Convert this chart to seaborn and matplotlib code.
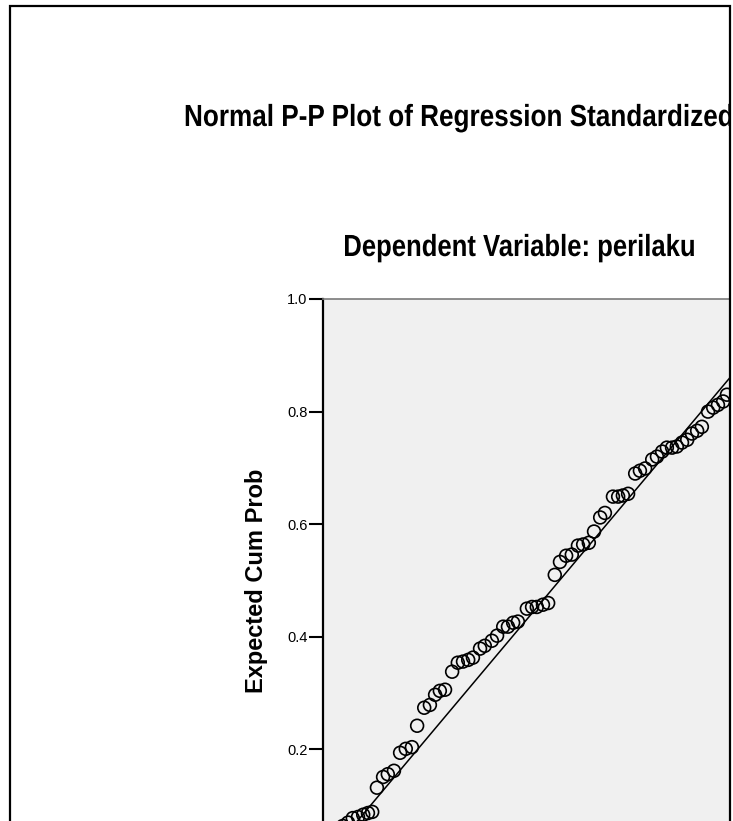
import numpy as np
import pandas as pd
import matplotlib
matplotlib.use("Agg")
import matplotlib.pyplot as plt
from matplotlib.patches import Rectangle
from matplotlib import patheffects
from matplotlib.transforms import Affine2D
import seaborn as sns

# ---- data ----
observed_cum_prob = [0.032, 0.042, 0.053,
                     0.063, 0.074, 0.085, 0.095, 0.104, 0.114, 0.127, 0.137, 0.150,
                     0.163, 0.175, 0.188, 0.199, 0.214, 0.226, 0.237, 0.247, 0.258,
                     0.273, 0.285, 0.296, 0.307, 0.317, 0.332, 0.342, 0.357, 0.368,
                     0.381, 0.391, 0.402, 0.412, 0.431, 0.442, 0.452, 0.465, 0.476,
                     0.490, 0.501, 0.514, 0.526, 0.539, 0.550, 0.562, 0.573, 0.586,
                     0.596, 0.613, 0.624, 0.634, 0.645, 0.660, 0.670, 0.681, 0.696,
                     0.706, 0.717, 0.727, 0.738, 0.748, 0.759, 0.770, 0.780, 0.791,
                     0.801, 0.814, 0.825, 0.835, 0.846, 0.854]
expected_cum_prob = [0.058, 0.064, 0.070,
                     0.078, 0.080, 0.084, 0.087, 0.089, 0.132, 0.151, 0.156, 0.162,
                     0.194, 0.201, 0.204, 0.242, 0.274, 0.279, 0.297, 0.304, 0.306,
                     0.338, 0.354, 0.356, 0.359, 0.363, 0.379, 0.384, 0.393, 0.402,
                     0.418, 0.418, 0.425, 0.427, 0.450, 0.453, 0.453, 0.457, 0.460,
                     0.510, 0.533, 0.544, 0.546, 0.562, 0.564, 0.567, 0.587, 0.612,
                     0.620, 0.649, 0.649, 0.651, 0.654, 0.690, 0.695, 0.699, 0.715,
                     0.720, 0.729, 0.736, 0.736, 0.738, 0.745, 0.750, 0.761, 0.766,
                     0.773, 0.800, 0.807, 0.812, 0.818, 0.830]
reference_line = [0.0, 1.0]
y_ticks = [0.2, 0.4, 0.6, 0.8, 1.0]
y_tick_labels = ["0.2", "0.4", "0.6", "0.8", "1.0"]

title_text = "Normal P-P Plot of Regression Standardized"
subtitle_text = "Dependent Variable: perilaku"
ylabel_text = "Expected Cum Prob"

df = pd.DataFrame({"observed": observed_cum_prob, "expected": expected_cum_prob})

sns.set_style("white", {"ytick.left": True})
plt.rcParams["font.family"] = ["Liberation Sans", "DejaVu Sans"]
plt.rcParams["text.color"] = "black"
plt.rcParams["axes.labelcolor"] = "black"
plt.rcParams["ytick.color"] = "black"


class XCondense(patheffects.AbstractPathEffect):
    """Draw text glyphs horizontally condensed (narrow face look)."""

    def __init__(self, sx, x0):
        super().__init__()
        self.sx = sx
        self.x0 = x0

    def draw_path(self, renderer, gc, tpath, affine, rgbFace=None):
        t = affine + Affine2D().translate(-self.x0, 0).scale(self.sx, 1).translate(self.x0, 0)
        renderer.draw_path(gc, tpath, t, rgbFace)


W, H = 733, 821
fig = plt.figure(figsize=(W / 100, H / 100), dpi=100)
fig.patch.set_facecolor("white")

# axes: x 0..1 spans px 323..796, y 0..1 spans px 862..299 (partly outside the crop)
ax = fig.add_axes([323 / W, 1 - 862 / H, 473 / W, 563 / H])
ax.set_facecolor("#f0f0f0")

sns.lineplot(x=reference_line, y=reference_line, ax=ax, color="black",
             linewidth=1.1, zorder=2)
sns.scatterplot(data=df, x="observed", y="expected", ax=ax, marker="o", s=85,
                facecolors="none", edgecolor="black", linewidth=1.2, zorder=3)

ax.set_xlim(0, 1)
ax.set_ylim(0, 1)
ax.set_yticks(y_ticks)
ax.set_yticklabels(y_tick_labels, fontsize=10.5)
ax.set_xticks([])
ax.tick_params(axis="y", left=True, direction="out", length=10, width=1.5,
               color="black", pad=1, labelcolor="black")
ax.set_ylabel(ylabel_text, fontsize=17, fontweight="bold", color="black")
ax.yaxis.set_label_coords(-0.116, 0.5)
ax.set_xlabel("")
for side in ["left", "bottom"]:
    ax.spines[side].set_color("black")
    ax.spines[side].set_linewidth(1.6)
for side in ["top", "right"]:
    ax.spines[side].set_color("#7a7a7a")
    ax.spines[side].set_linewidth(1.2)

fig.text(184 / W, 1 - 118 / H, title_text, ha="left", va="center",
         fontsize=22, fontweight="bold", color="black",
         path_effects=[XCondense(0.855, 184)])
fig.text(519 / W, 1 - 248 / H, subtitle_text, ha="center", va="center",
         fontsize=22, fontweight="bold", color="black",
         path_effects=[XCondense(0.84, 519)])

# outer frame of the original chart (right edge cuts the chart)
frame = Rectangle((9.5 / W, -0.1), (729.5 - 9.5) / W, 1.1 - 6.5 / H,
                  transform=fig.transFigure, fill=False, edgecolor="black",
                  linewidth=1.6, zorder=20)
fig.add_artist(frame)
fig.add_artist(Rectangle((731 / W, -0.1), 0.2, 1.2, transform=fig.transFigure,
                         facecolor="white", edgecolor="none", zorder=19))

fig.savefig("out.png", dpi=100)
